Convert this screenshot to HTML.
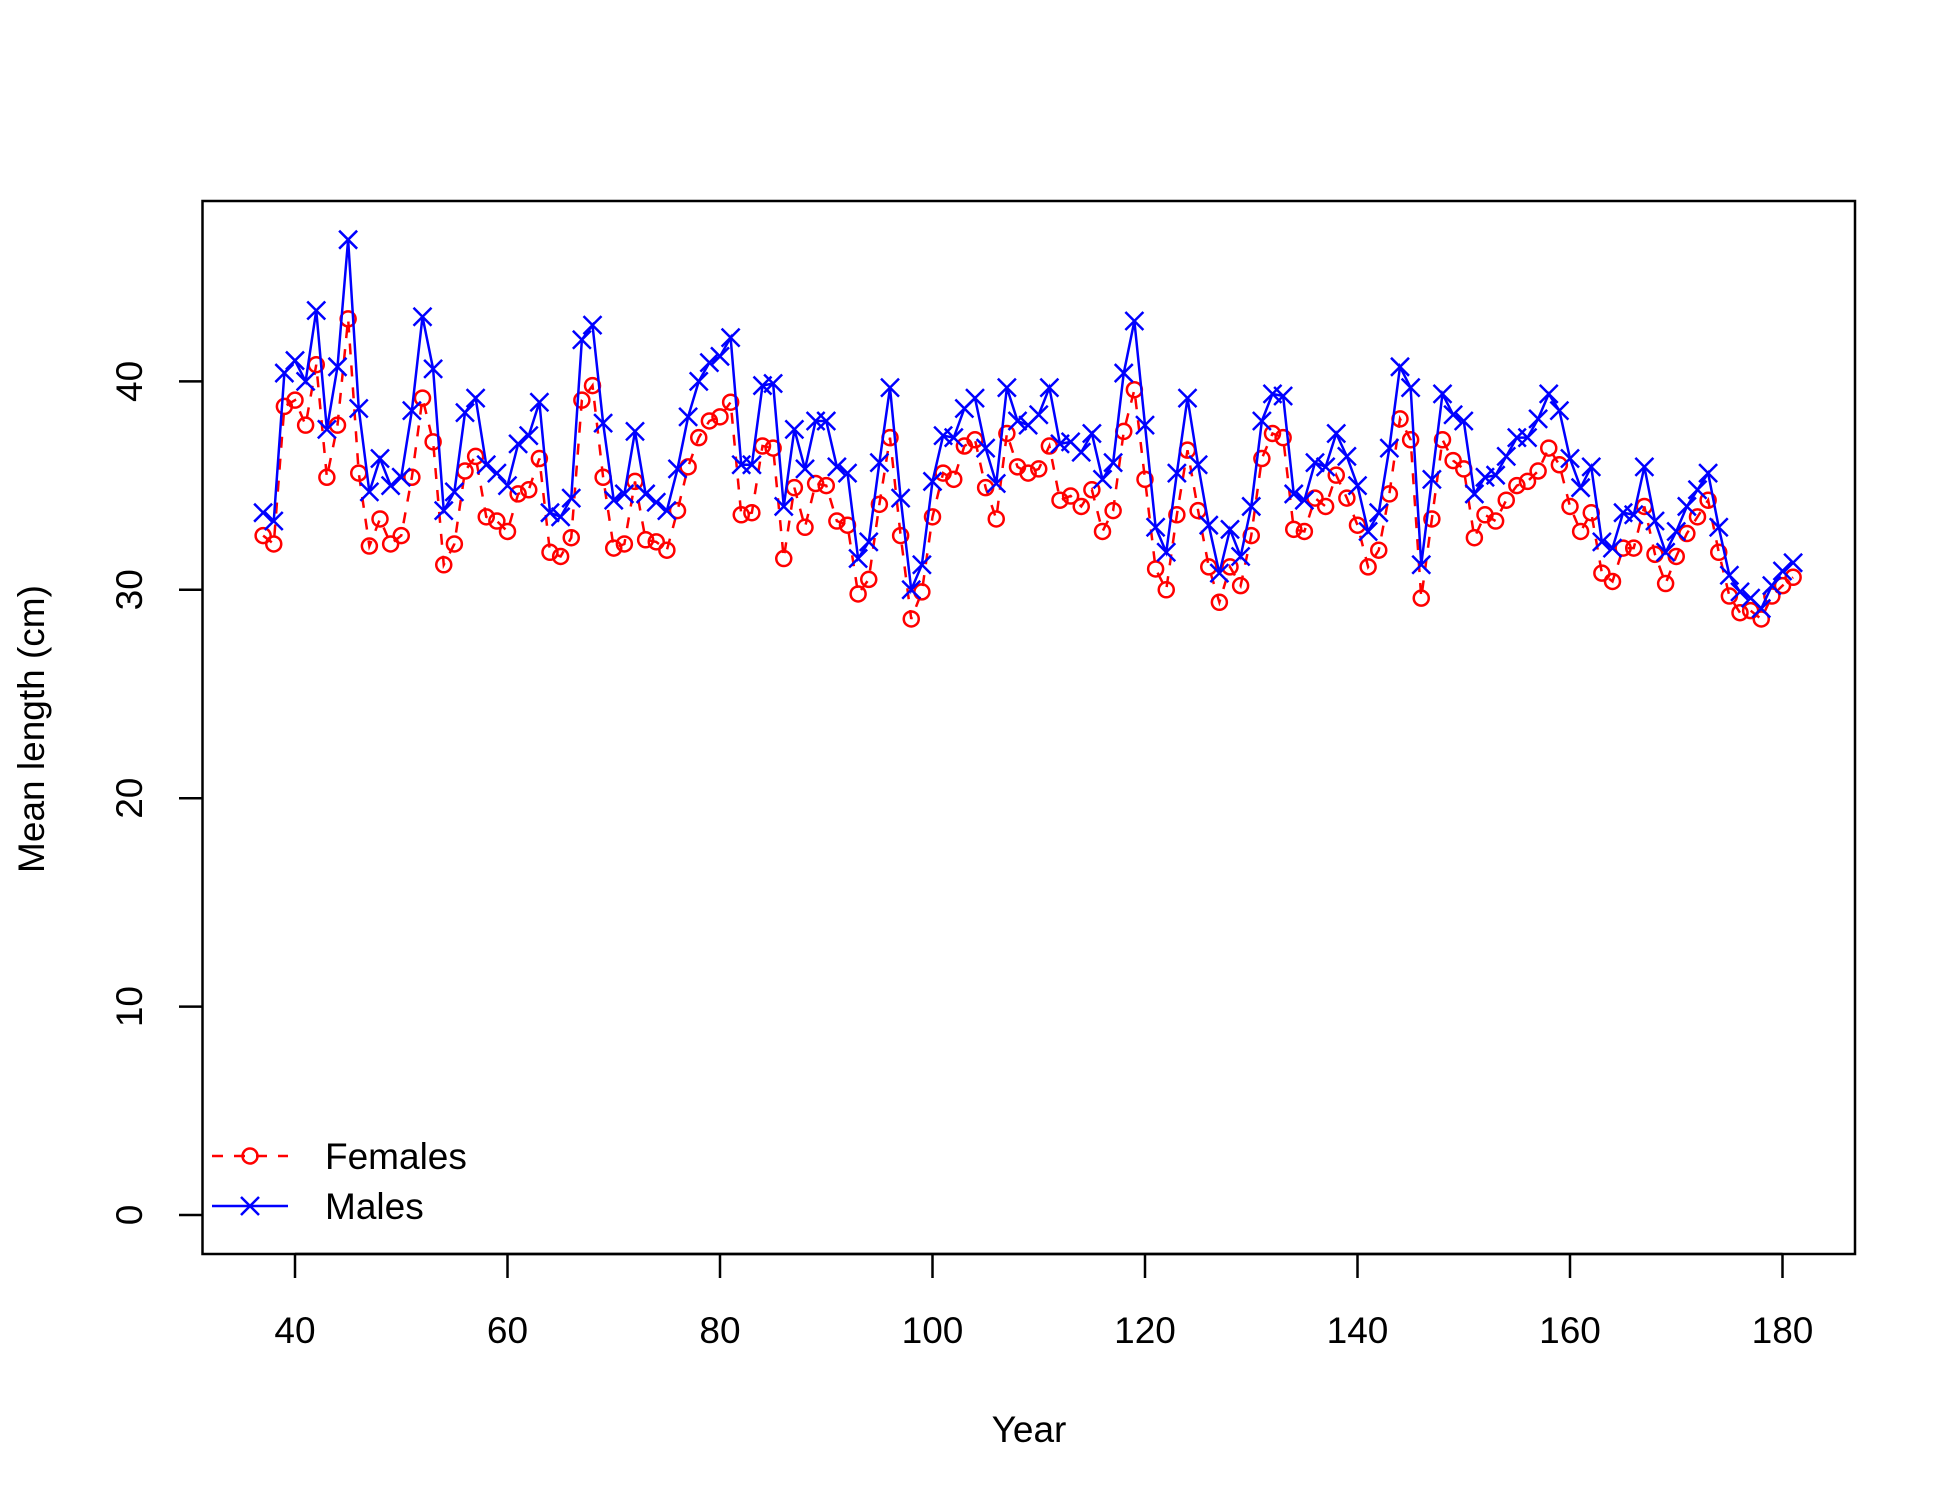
<!DOCTYPE html>
<html><head><meta charset="utf-8"><style>body{margin:0;background:#fff}svg text{font-family:"Liberation Sans",Arial,sans-serif}</style></head>
<body>
<svg id="chart" width="1950" height="1500" viewBox="0 0 1950 1500" xmlns="http://www.w3.org/2000/svg">
<rect width="1950" height="1500" fill="#fff"/>
<g id="axes"></g><g id="series"></g><g id="legend"></g>
</svg>
<script>
const startYear = 37;
const females = [32.6,32.2,38.8,39.1,37.9,40.8,35.4,37.9,43.0,35.6,32.1,33.4,32.2,32.6,35.4,39.2,37.1,31.2,32.2,35.7,36.4,33.5,33.3,32.8,34.6,34.8,36.3,31.8,31.6,32.5,39.1,39.8,35.4,32.0,32.2,35.2,32.4,32.3,31.9,33.8,35.9,37.3,38.1,38.3,39.0,33.6,33.7,36.9,36.8,31.5,34.9,33.0,35.1,35.0,33.3,33.1,29.8,30.5,34.1,37.3,32.6,28.6,29.9,33.5,35.6,35.3,36.9,37.2,34.9,33.4,37.5,35.9,35.6,35.8,36.9,34.3,34.5,34.0,34.8,32.8,33.8,37.6,39.6,35.3,31.0,30.0,33.6,36.7,33.8,31.1,29.4,31.1,30.2,32.6,36.3,37.5,37.3,32.9,32.8,34.4,34.0,35.5,34.4,33.1,31.1,31.9,34.6,38.2,37.2,29.6,33.4,37.2,36.2,35.8,32.5,33.6,33.3,34.3,35.0,35.2,35.7,36.8,36.0,34.0,32.8,33.7,30.8,30.4,32.0,32.0,34.0,31.7,30.3,31.6,32.7,33.5,34.3,31.8,29.7,28.9,29.0,28.6,29.7,30.2,30.6];
const males = [33.7,33.3,40.4,41.0,40.0,43.4,37.7,40.7,46.8,38.7,34.7,36.3,35.0,35.4,38.6,43.1,40.6,33.8,34.7,38.5,39.2,36.0,35.6,35.0,37.0,37.4,39.0,33.7,33.5,34.4,42.0,42.7,38.0,34.3,34.6,37.6,34.6,34.2,33.8,35.8,38.3,40.0,40.9,41.2,42.1,36.0,36.0,39.8,39.9,34.0,37.7,35.8,38.1,38.1,35.9,35.6,31.5,32.3,36.1,39.7,34.4,30.0,31.2,35.2,37.4,37.3,38.7,39.2,36.8,35.1,39.7,38.1,37.9,38.4,39.7,37.0,37.1,36.6,37.5,35.3,36.1,40.4,42.9,37.9,33.0,31.8,35.6,39.2,36.0,33.1,30.8,32.9,31.6,34.0,38.1,39.4,39.3,34.6,34.3,36.1,35.9,37.5,36.4,35.0,32.8,33.7,36.8,40.7,39.7,31.2,35.3,39.4,38.4,38.1,34.6,35.4,35.5,36.4,37.3,37.3,38.2,39.4,38.6,36.3,34.9,35.9,32.3,32.0,33.7,33.6,35.9,33.3,31.8,32.8,34.0,34.8,35.6,33.0,30.7,29.9,29.6,29.1,30.2,30.9,31.3];
const xTicks = [40,60,80,100,120,140,160,180];
const yTicks = [0,10,20,30,40];

const NS="http://www.w3.org/2000/svg";
const X = yr => 295 + (yr-40)*10.625;
const Y = v => 1215 - v*20.84;
function mk(tag, attrs, parent){const e=document.createElementNS(NS,tag);for(const k in attrs)e.setAttribute(k,attrs[k]);parent.appendChild(e);return e;}
const axes=document.getElementById('axes'), series=document.getElementById('series'), legend=document.getElementById('legend');

let box=mk('rect',{x:202.5,y:201,width:1652.5,height:1053,fill:'none',stroke:'#000','stroke-width':2.5},axes);


let xl=mk('line',{x1:X(40),x2:X(180),y1:1254,y2:1254,stroke:'#000','stroke-width':2.5},axes);


xTicks.forEach(t=>{
  let l=mk('line',{x1:X(t),x2:X(t),y1:1254,y2:1278,stroke:'#000','stroke-width':2.5},axes);
  
  
  let tx=mk('text',{x:X(t),y:1343,'font-size':37,'text-anchor':'middle'},axes);
  tx.textContent=t;
  
  
});
yTicks.forEach(t=>{
  let l=mk('line',{x1:179,x2:202.5,y1:Y(t),y2:Y(t),stroke:'#000','stroke-width':2.5},axes);
  
  
  let tx=mk('text',{x:142,y:Y(t),'font-size':37,'text-anchor':'middle',transform:`rotate(-90 142 ${Y(t)})`},axes);
  tx.textContent=t;
  
  
});
let xt=mk('text',{x:1029,y:1442,'font-size':37,'text-anchor':'middle'},axes);
xt.textContent='Year';


let yt=mk('text',{x:44,y:729,'font-size':37,'text-anchor':'middle',transform:'rotate(-90 44 729)'},axes);
yt.textContent='Mean length (cm)';



function drawCircle(g,cx,cy){mk('circle',{cx:cx,cy:cy,r:7.5,fill:'none',stroke:'#ff0000','stroke-width':2.5},g);}
function drawX(g,cx,cy){const s=9;mk('path',{d:`M${cx-s} ${cy-s}L${cx+s} ${cy+s}M${cx-s} ${cy+s}L${cx+s} ${cy-s}`,stroke:'#0000ff','stroke-width':2.5,fill:'none'},g);}

// females
let fg=mk('g',{},series);


let fp=females.map((v,i)=>`${i?'L':'M'}${X(startYear+i)} ${Y(v)}`).join('');
let fl=mk('path',{d:fp,fill:'none',stroke:'#ff0000','stroke-width':2.5,'stroke-dasharray':'11 11'},fg);


females.forEach((v,i)=>drawCircle(fg,X(startYear+i),Y(v)));
// males
let mg=mk('g',{},series);


let mp=males.map((v,i)=>`${i?'L':'M'}${X(startYear+i)} ${Y(v)}`).join('');
let ml=mk('path',{d:mp,fill:'none',stroke:'#0000ff','stroke-width':2.5},mg);


males.forEach((v,i)=>drawX(mg,X(startYear+i),Y(v)));

// legend
let le1=mk('g',{},legend);


mk('line',{x1:212,x2:288,y1:1156,y2:1156,stroke:'#ff0000','stroke-width':2.5,'stroke-dasharray':'11 11'},le1);
drawCircle(le1,250,1156);
let t1=mk('text',{x:325,y:1169,'font-size':37},le1);t1.textContent='Females';
let le2=mk('g',{},legend);


mk('line',{x1:212,x2:288,y1:1206,y2:1206,stroke:'#0000ff','stroke-width':2.5},le2);
drawX(le2,250,1206);
let t2=mk('text',{x:325,y:1219,'font-size':37},le2);t2.textContent='Males';
</script>
</body></html>
